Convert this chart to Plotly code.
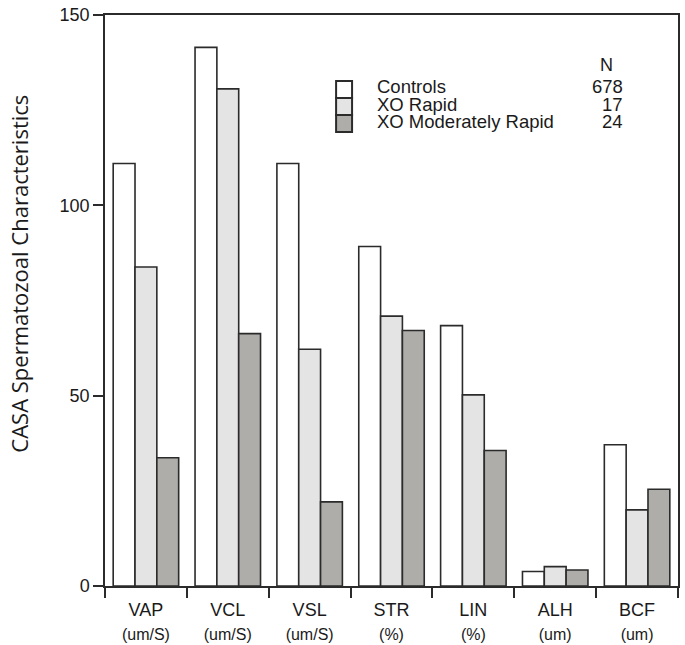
import plotly.graph_objects as go

# ---- data ----
categories = ["VAP", "VCL", "VSL", "STR", "LIN", "ALH", "BCF"]
units = ["(um/S)", "(um/S)", "(um/S)", "(%)", "(%)", "(um)", "(um)"]
controls = [111, 141.5, 111, 89.2, 68.4, 3.8, 37.1]
xo_rapid = [83.8, 130.6, 62.2, 70.9, 50.2, 5.1, 20.0]
xo_mod_rapid = [33.7, 66.3, 22.1, 67.1, 35.6, 4.2, 25.4]
series_names = ["Controls", "XO Rapid", "XO Moderately Rapid"]
series_n = ["678", "17", "24"]
y_ticks = [0, 50, 100, 150]
y_title = "CASA Spermatozoal Characteristics"

colors = ["#ffffff", "#e3e4e3", "#aeadaa"]
edge = "#2b2b2b"

W, H = 685, 645
ML, MR, MT, MB = 104.5, 6.5, 14.5, 58.5
PW, PH = W - ML - MR, H - MT - MB


def px_x(px):
    return (px - ML) / PW


def px_y(py):
    return (H - MB - py) / PH


fig = go.Figure()
for name, vals, col in zip(series_names, [controls, xo_rapid, xo_mod_rapid], colors):
    fig.add_trace(go.Bar(
        x=categories, y=vals, name=name,
        marker=dict(color=col, line=dict(color=edge, width=1.6)),
        showlegend=False,
    ))

ticktext = [f"{c}<br><span style='font-size:16px'>{u}</span>" for c, u in zip(categories, units)]

fig.update_layout(
    width=W, height=H,
    margin=dict(l=ML, r=MR, t=MT, b=MB, pad=0, autoexpand=False),
    plot_bgcolor="white", paper_bgcolor="white",
    barmode="group", bargap=0.2, bargroupgap=0,
    font=dict(family="Liberation Sans, Arial, sans-serif", color="#1a1a1a"),
    xaxis=dict(
        type="category", tickmode="array", tickvals=categories, ticktext=ticktext,
        tickson="boundaries", ticks="outside", ticklen=10, tickwidth=1.5, tickcolor=edge,
        showline=True, linecolor=edge, linewidth=1.5, mirror=True, automargin=False,
        showgrid=False, tickfont=dict(size=18), ticklabelstandoff=7,
    ),
    yaxis=dict(
        range=[0, 150], tickvals=y_ticks, ticks="outside", ticklen=10, tickwidth=1.5,
        tickcolor=edge, showline=True, linecolor=edge, linewidth=1.5, mirror=True,
        showgrid=False, zeroline=False, tickfont=dict(size=18), automargin=False,
    ),
)

# y-axis title
fig.add_annotation(
    x=px_x(18), y=px_y(274), xref="paper", yref="paper",
    text=y_title, textangle=-90, showarrow=False,
    font=dict(family="Open Sans, Noto Sans, sans-serif", size=22, color="#1a1a1a"),
    xanchor="center", yanchor="middle",
)

# custom legend
box_x0, box_x1 = 336, 352
row_top = 80.7
row_h = 17.0
text_y = [86.5, 104.5, 121.5]
fig.add_annotation(
    x=px_x(607), y=px_y(65), xref="paper", yref="paper", text="N",
    showarrow=False, xanchor="center", yanchor="middle", font=dict(size=18),
)
for i, (name, n, col) in enumerate(zip(series_names, series_n, colors)):
    y0 = row_top + i * row_h
    y1 = y0 + row_h
    fig.add_shape(
        type="rect", xref="paper", yref="paper",
        x0=px_x(box_x0), x1=px_x(box_x1), y0=px_y(y1), y1=px_y(y0),
        fillcolor=col, line=dict(color=edge, width=2),
    )
    ymid = text_y[i]
    fig.add_annotation(
        x=px_x(376), y=px_y(ymid), xref="paper", yref="paper", text=name,
        showarrow=False, xanchor="left", yanchor="middle", font=dict(size=18.5),
        borderpad=0,
    )
    fig.add_annotation(
        x=px_x(624), y=px_y(ymid), xref="paper", yref="paper", text=n,
        showarrow=False, xanchor="right", yanchor="middle", font=dict(size=18.5),
        borderpad=0,
    )

fig.write_html("out.html", config={"displayModeBar": False},
               post_script="document.body.style.margin='0px';")
